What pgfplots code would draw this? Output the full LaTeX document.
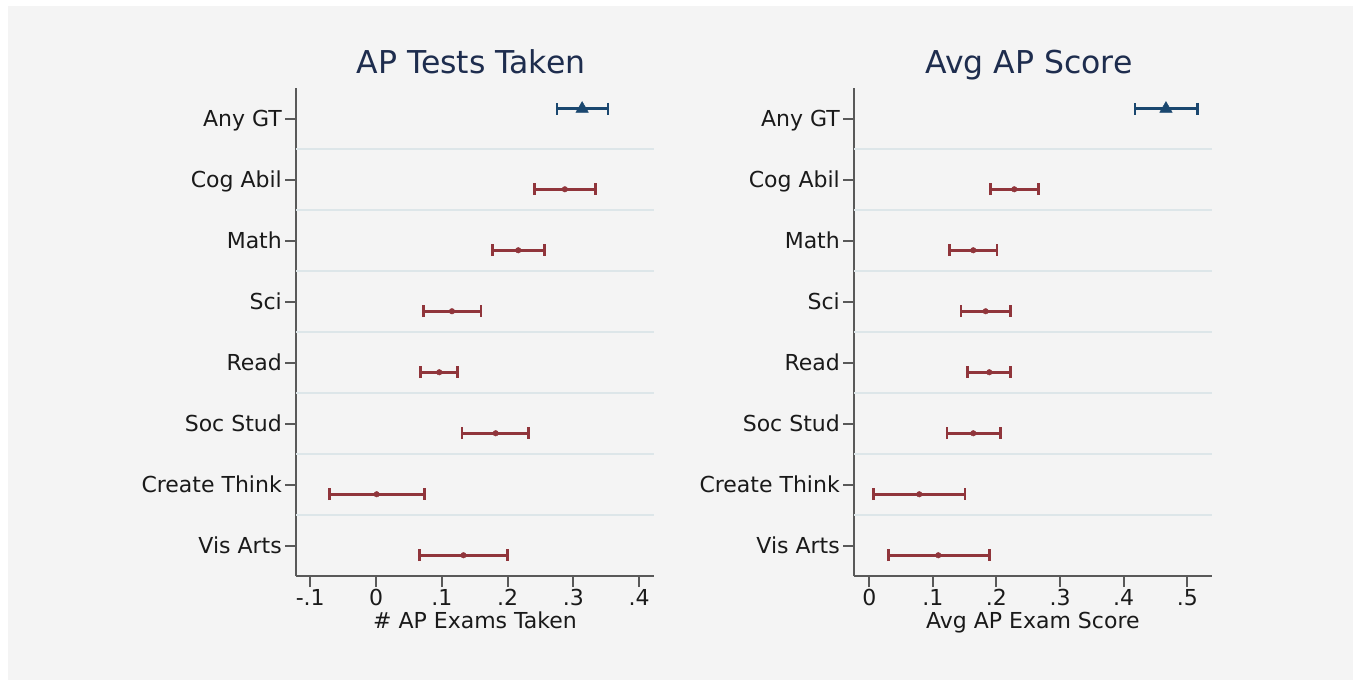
\documentclass[border=0pt]{standalone}
\usepackage{pgfplots}
\usepackage{pgfplotstable}
\pgfplotsset{compat=1.18}
\usepackage{fontspec}
\setmainfont{DejaVu Sans}
\definecolor{bgc}{HTML}{F4F4F4}
\definecolor{navyc}{HTML}{1A476F}
\definecolor{maroonc}{HTML}{90353B}
\definecolor{gridc}{HTML}{DDE6E9}
\definecolor{axc}{HTML}{595959}
\definecolor{titc}{HTML}{1E2D4E}
\definecolor{txtc}{HTML}{1A1A1A}

% y: position, c: estimate, lo/hi: CI bounds
\pgfplotstableread{
y c lo hi
8.16 0.3135 0.2755 0.3530
}\leftblue
\pgfplotstableread{
y c lo hi
6.84 0.2872 0.2406 0.3338
5.84 0.2163 0.1773 0.2558
4.84 0.1155 0.0719 0.1596
3.84 0.0962 0.0679 0.1241
2.84 0.1820 0.1310 0.2315
1.84 0.0010 -0.0710 0.0734
0.84 0.1330 0.0660 0.2000
}\leftred
\pgfplotstableread{
y c lo hi
8.16 0.4665 0.4178 0.5157
}\rightblue
\pgfplotstableread{
y c lo hi
6.84 0.2280 0.1910 0.2660
5.84 0.1635 0.1258 0.2008
4.84 0.1830 0.1442 0.2223
3.84 0.1887 0.1540 0.2223
2.84 0.1635 0.1220 0.2066
1.84 0.0786 0.0063 0.1505
0.84 0.1085 0.0300 0.1890
}\rightred

\pgfplotsset{
  coefstyle/.style={
    scale only axis,
    height=488pt,
    ymin=0.5, ymax=8.5,
    axis x line*=bottom, axis y line*=left,
    axis line style={draw=axc, line width=2pt},
    ytick={1,...,8},
    yticklabels={Vis Arts, Create Think, Soc Stud, Read, Sci, Math, Cog Abil, Any GT},
    tick align=outside,
    tick style={draw=axc, line width=2pt},
    major tick length=11pt,
    extra y ticks={1.5,2.5,3.5,4.5,5.5,6.5,7.5},
    extra y tick labels={},
    extra y tick style={grid=major, major tick length=0pt, tick style={draw=none},
      major grid style={draw=gridc, line width=2pt}},
    yticklabel style={font=\fontsize{22}{26}\selectfont, text=txtc, anchor=base east, inner sep=0pt, xshift=-3pt, yshift=-8pt},
    xticklabel style={font=\fontsize{22}{26}\selectfont, text=txtc, anchor=base, inner sep=0pt, yshift=-18.5pt},
    xlabel style={font=\fontsize{22}{26}\selectfont, text=txtc, at={(axis description cs:0.5,0)}, anchor=base, yshift=-52.5pt},
    title style={font=\fontsize{31.5}{36}\selectfont, text=titc, at={(axis description cs:0.5,1)}, anchor=base, yshift=8.5pt, xshift=-4pt},
    clip=false,
  },
  bluestyle/.style={only marks, color=navyc, mark=triangle*, mark size=7.2pt,
    error bars/.cd, x dir=both, x explicit,
    error bar style={line width=2.6pt, color=navyc},
    error mark options={line width=2.6pt, mark size=5.8pt, color=navyc, rotate=90}},
  redstyle/.style={only marks, color=maroonc, mark=*, mark size=2.8pt,
    error bars/.cd, x dir=both, x explicit,
    error bar style={line width=2.6pt, color=maroonc},
    error mark options={line width=2.6pt, mark size=5.8pt, color=maroonc, rotate=90}},
}

\begin{document}
\begin{tikzpicture}[x=1pt,y=1pt]
\fill[white] (0pt,0pt) rectangle (1353pt,681pt);
\fill[bgc] (8pt,1pt) rectangle (1353pt,675pt);

\begin{axis}[coefstyle, at={(296pt,105pt)}, anchor=south west, width=358pt,
  xmin=-0.1217, xmax=0.4228,
  xtick={-0.1,0,0.1,0.2,0.3,0.4}, xticklabels={-.1,0,.1,.2,.3,.4},
  xlabel={\# AP Exams Taken}, title={AP Tests Taken}]
\addplot[bluestyle] table[x=c, y=y, x error plus expr=\thisrow{hi}-\thisrow{c}, x error minus expr=\thisrow{c}-\thisrow{lo}] {\leftblue};
\addplot[redstyle] table[x=c, y=y, x error plus expr=\thisrow{hi}-\thisrow{c}, x error minus expr=\thisrow{c}-\thisrow{lo}] {\leftred};
\end{axis}

\begin{axis}[coefstyle, at={(854pt,105pt)}, anchor=south west, width=357.7pt,
  xmin=-0.024, xmax=0.5384,
  xtick={0,0.1,0.2,0.3,0.4,0.5}, xticklabels={0,.1,.2,.3,.4,.5},
  xlabel={Avg AP Exam Score}, title={Avg AP Score}]
\addplot[bluestyle] table[x=c, y=y, x error plus expr=\thisrow{hi}-\thisrow{c}, x error minus expr=\thisrow{c}-\thisrow{lo}] {\rightblue};
\addplot[redstyle] table[x=c, y=y, x error plus expr=\thisrow{hi}-\thisrow{c}, x error minus expr=\thisrow{c}-\thisrow{lo}] {\rightred};
\end{axis}
\end{tikzpicture}
\end{document}
